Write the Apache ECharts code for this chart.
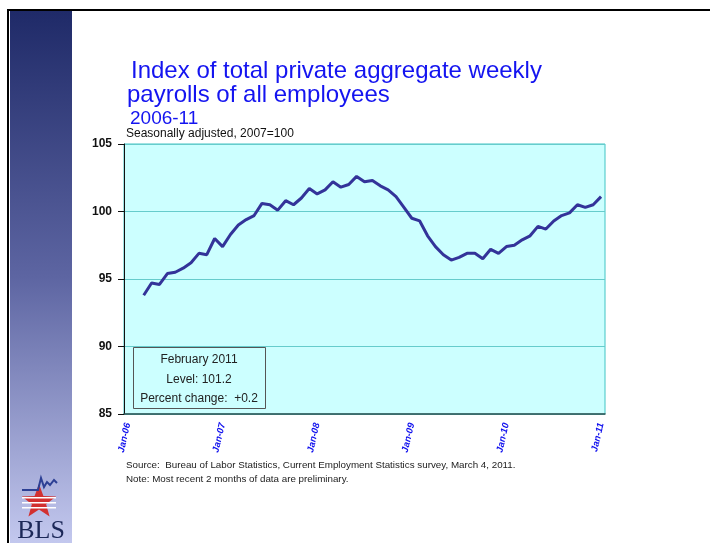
<!DOCTYPE html>
<html>
<head>
<meta charset="utf-8">
<script src="https://cdn.jsdelivr.net/npm/echarts@6/dist/echarts.min.js"></script>
<style>
  html, body { margin: 0; padding: 0; background: #fff; }
  #chart { width: 710px; height: 543px; }
</style>
</head>
<body>
<div id="chart"></div>
<script>
// months on the axis: Jan-06 .. Jan-11
var years = ['06', '07', '08', '09', '10', '11']
var monthNames = ['Jan', 'Feb', 'Mar', 'Apr', 'May', 'Jun', 'Jul', 'Aug', 'Sep', 'Oct', 'Nov', 'Dec']
var categories = []
years.forEach(function (y, yi) {
  monthNames.forEach(function (m, mi) {
    if (yi < years.length - 1 || mi === 0) categories.push(m + '-' + y)
  })
})

// index values (2007=100), series starts in the third month
var payrollIndex = [
  null, null,
  93.8, 94.7, 94.6, 95.4, 95.5, 95.8, 96.2, 96.9, 96.8, 98.0,
  97.4, 98.3, 99.0, 99.4, 99.7, 100.6, 100.5, 100.1, 100.8, 100.5, 101.0, 101.7,
  101.3, 101.6, 102.2, 101.8, 102.0, 102.6, 102.2, 102.3, 101.9, 101.6, 101.1, 100.3,
  99.5, 99.3, 98.2, 97.4, 96.8, 96.4, 96.6, 96.9, 96.9, 96.5, 97.2, 96.9,
  97.4, 97.5, 97.9, 98.2, 98.9, 98.7, 99.3, 99.7, 99.9, 100.5, 100.3, 100.5,
  101.1
]

var yTicks = [85, 90, 95, 100, 105]
var titleLines = ['Index of total private aggregate weekly', 'payrolls of all employees', '2006-11']
var subTitle = 'Seasonally adjusted, 2007=100'
var boxLines = ['February 2011', 'Level: 101.2', 'Percent change:  +0.2']
var notes = [
  'Source:  Bureau of Labor Statistics, Current Employment Statistics survey, March 4, 2011.',
  'Note: Most recent 2 months of data are preliminary.'
]

var chart = echarts.init(document.getElementById('chart'))

// star shape for the logo
function starPoints(cx, cy, r1, r2) {
  var pts = []
  for (var i = 0; i < 10; i++) {
    var r = i % 2 === 0 ? r1 : r2
    var a = -Math.PI / 2 + i * Math.PI / 5
    pts.push([cx + r * Math.cos(a), cy + r * Math.sin(a)])
  }
  return pts
}

var graphics = [
  // side band
  {
    type: 'rect', left: 10, top: 11, z: 0,
    shape: { width: 62, height: 532 },
    style: {
      fill: new echarts.graphic.LinearGradient(0, 0, 0, 1, [
        { offset: 0, color: '#1f2a68' },
        { offset: 0.5, color: '#5d65a2' },
        { offset: 1, color: '#c3c8ee' }
      ])
    }
  },
  { type: 'rect', left: 7, top: 9, shape: { width: 703, height: 2 }, style: { fill: '#000' } },
  { type: 'rect', left: 7, top: 9, shape: { width: 2, height: 534 }, style: { fill: '#000' } },
  // logo
  {
    type: 'polyline', z: 2,
    shape: { points: [[22, 490], [38, 490], [41, 478], [44, 487], [47, 482], [50, 485], [54, 480], [57, 483]] },
    style: { stroke: '#2c3f94', lineWidth: 2, fill: null }
  },
  { type: 'polygon', z: 1, shape: { points: starPoints(39, 502, 18, 7.5) }, style: { fill: '#d23030' } },
  { type: 'rect', z: 2, left: 22, top: 497, shape: { width: 34, height: 1.5 }, style: { fill: '#fff' } },
  { type: 'rect', z: 2, left: 22, top: 502, shape: { width: 34, height: 1.5 }, style: { fill: '#fff' } },
  { type: 'rect', z: 2, left: 22, top: 507, shape: { width: 34, height: 1.5 }, style: { fill: '#fff' } },
  {
    type: 'text', z: 2, x: 41, y: 531,
    style: { text: 'BLS', font: '26px "Liberation Serif", "DejaVu Serif", serif', fill: '#1c2858', align: 'center', verticalAlign: 'middle' }
  },
  // titles
  {
    type: 'text', x: 131, y: 71,
    style: { text: titleLines[0], font: '24px "Liberation Sans", Arial, sans-serif', fill: '#1414f0', verticalAlign: 'middle' }
  },
  {
    type: 'text', x: 127, y: 95,
    style: { text: titleLines[1], font: '24px "Liberation Sans", Arial, sans-serif', fill: '#1414f0', verticalAlign: 'middle' }
  },
  {
    type: 'text', x: 130, y: 119,
    style: { text: titleLines[2], font: '19px "Liberation Sans", Arial, sans-serif', fill: '#1414f0', verticalAlign: 'middle' }
  },
  {
    type: 'text', x: 126, y: 134,
    style: { text: subTitle, font: '12px "Liberation Sans", Arial, sans-serif', fill: '#111', verticalAlign: 'middle' }
  },
  // level box
  {
    type: 'rect', z: 5, left: 133, top: 347,
    shape: { width: 132, height: 61 },
    style: { fill: 'rgba(0,0,0,0)', stroke: '#555', lineWidth: 1 }
  }
]
boxLines.forEach(function (t, i) {
  graphics.push({
    type: 'text', z: 5, x: 199, y: 360 + i * 19.5,
    style: { text: t, font: '12px "Liberation Sans", Arial, sans-serif', fill: '#222', align: 'center', verticalAlign: 'middle' }
  })
})
notes.forEach(function (t, i) {
  graphics.push({
    type: 'text', x: 126, y: 465 + i * 14,
    style: { text: t, font: '9.8px "Liberation Sans", Arial, sans-serif', fill: '#222', verticalAlign: 'middle' }
  })
})

chart.setOption({
  animation: false,
  grid: {
    left: 124, right: 105, top: 144, bottom: 129,
    show: true,
    backgroundColor: '#ccffff',
    borderColor: '#40c4c4',
    borderWidth: 1,
    outerBoundsMode: 'none'
  },
  xAxis: {
    type: 'category',
    data: categories,
    boundaryGap: true,
    axisLine: { lineStyle: { color: '#2f4f4f', width: 1.5 } },
    axisTick: {
      length: 5,
      interval: function (i) { return i % 12 === 0 },
      lineStyle: { color: '#222' }
    },
    axisLabel: {
      interval: function (i) { return i % 12 === 0 },
      rotate: 77,
      margin: 9,
      color: '#1010ee',
      fontSize: 9.5,
      fontWeight: 'bold',
      fontStyle: 'italic',
      fontFamily: '"Liberation Sans", Arial, sans-serif'
    },
    splitLine: { show: false }
  },
  yAxis: {
    type: 'value',
    min: yTicks[0],
    max: yTicks[yTicks.length - 1],
    interval: 5,
    axisLine: { show: true, lineStyle: { color: '#111', width: 1 } },
    axisTick: { show: true, length: 6, lineStyle: { color: '#111' } },
    axisLabel: {
      margin: 12,
      color: '#111',
      fontSize: 12,
      fontWeight: 'bold',
      fontFamily: '"Liberation Sans", Arial, sans-serif'
    },
    splitLine: { lineStyle: { color: '#66cccc', width: 1 } }
  },
  series: [{
    type: 'line',
    data: payrollIndex,
    showSymbol: false,
    symbol: 'none',
    lineStyle: { color: '#333399', width: 3 },
    connectNulls: false
  }],
  graphic: graphics
})
</script>
</body>
</html>
